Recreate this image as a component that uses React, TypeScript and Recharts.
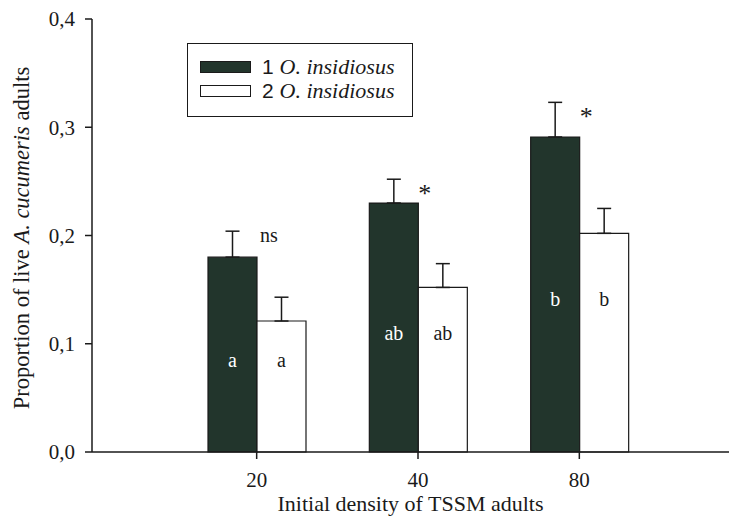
import React from "react";
import {
  BarChart,
  Bar,
  XAxis,
  YAxis,
  ErrorBar,
  LabelList,
  Legend,
} from "recharts";

// Initial TSSM density per arena
const densities = ["20", "40", "80"];

// Proportion of live A. cucumeris adults (mean) and SE
const oneInsidiosus = [0.18, 0.23, 0.291];
const oneInsidiosusSe = [0.024, 0.022, 0.032];
const twoInsidiosus = [0.121, 0.152, 0.202];
const twoInsidiosusSe = [0.022, 0.022, 0.023];

// Letters = mean separation within a treatment; marks = 1 vs 2 comparison
const oneLetters = ["a", "ab", "b"];
const twoLetters = ["a", "ab", "b"];
const pairMarks = ["ns", "*", "*"];

const yTicks = [0, 0.1, 0.2, 0.3, 0.4];

const data = densities.map((d, i) => ({
  density: d,
  one: oneInsidiosus[i],
  oneErr: [0, oneInsidiosusSe[i]],
  two: twoInsidiosus[i],
  twoErr: [0, twoInsidiosusSe[i]],
  oneLetter: oneLetters[i],
  twoLetter: twoLetters[i],
  mark: pairMarks[i],
}));

const DARK = "#22352c";
const INK = "#1a1a1a";
const SERIF = "'Liberation Serif', 'Times New Roman', serif";
const SANS = "'Liberation Sans', Arial, sans-serif";

// letter inside the dark bar, at mid height
function OneLetter(props: any) {
  const { x, y, width, height, value } = props;
  return (
    <text
      x={x + width / 2}
      y={y + height / 2 + 5}
      textAnchor="middle"
      dominantBaseline="central"
      fill="#fff"
      fontFamily={SERIF}
      fontSize={20}
    >
      {value}
    </text>
  );
}

// letter inside the white bar, level with the dark bar's letter
function TwoLetter(props: any) {
  const { x, y, width, height, value, index } = props;
  const bottom = y + height;
  const pxPerUnit = height / twoInsidiosus[index];
  const darkMid = bottom - (oneInsidiosus[index] / 2) * pxPerUnit;
  return (
    <text
      x={x + width / 2}
      y={darkMid + 5}
      textAnchor="middle"
      dominantBaseline="central"
      fill={INK}
      fontFamily={SERIF}
      fontSize={20}
    >
      {value}
    </text>
  );
}

// "ns" / "*" just right of the dark bar, near its error bar top
function PairMark(props: any) {
  const { x, y, width, height, value, index } = props;
  const pxPerUnit = height / oneInsidiosus[index];
  const errTop = y - oneInsidiosusSe[index] * pxPerUnit;
  const star = value === "*";
  return (
    <text
      x={x + width + (star ? 0 : 3)}
      y={errTop + (star ? 14 : 4)}
      textAnchor="start"
      dominantBaseline="central"
      fill={INK}
      fontFamily={SERIF}
      fontSize={star ? 26 : 20}
    >
      {value}
    </text>
  );
}

function LegendBox() {
  return (
    <div
      style={{
        width: 226,
        height: 74,
        border: `1.5px solid ${INK}`,
        background: "#fff",
        boxSizing: "border-box",
        paddingLeft: 12,
        paddingTop: 11,
      }}
    >
      {[
        { n: "1", fill: DARK },
        { n: "2", fill: "#fff" },
      ].map((r) => (
        <div
          key={r.n}
          style={{ display: "flex", alignItems: "center", height: 24 }}
        >
          <span
            style={{
              width: 51,
              height: 12,
              background: r.fill,
              border: `1.5px solid ${INK}`,
              boxSizing: "border-box",
              marginRight: 11,
            }}
          />
          <span style={{ fontFamily: SANS, fontSize: 21, color: INK }}>
            {r.n}&nbsp;
          </span>
          <span
            style={{
              fontFamily: SERIF,
              fontStyle: "italic",
              fontSize: 22,
              color: INK,
            }}
          >
            O. insidiosus
          </span>
        </div>
      ))}
    </div>
  );
}

function YTitle() {
  return (
    <text
      transform="translate(29, 238) rotate(-90)"
      textAnchor="middle"
      fontFamily={SERIF}
      fontSize={22.5}
      fill={INK}
    >
      Proportion of live <tspan fontStyle="italic">A. cucumeris</tspan> adults
    </text>
  );
}

export default function App() {
  return (
    <div
      style={{
        position: "absolute",
        left: 0,
        top: 0,
        width: 729,
        height: 517,
        background: "#fff",
      }}
    >
      <BarChart
        width={729}
        height={517}
        data={data}
        margin={{ top: 19, right: 0, bottom: 0, left: 0 }}
        barGap={0}
        barCategoryGap={0}
      >
        <XAxis
          dataKey="density"
          height={65}
          padding={{ left: 84, right: 69 }}
          axisLine={{ stroke: INK, strokeWidth: 1.5 }}
          tickLine={{ stroke: INK, strokeWidth: 1.5 }}
          tickSize={7}
          tickMargin={13}
          tick={{ fill: INK, fontFamily: SERIF, fontSize: 21 }}
          label={{
            value: "Initial density of TSSM adults",
            position: "insideBottom",
            offset: 6,
            fill: INK,
            fontFamily: SERIF,
            fontSize: 22,
          }}
        />
        <YAxis
          width={92}
          domain={[0, 0.4]}
          ticks={yTicks}
          interval={0}
          tickFormatter={(v: number) => v.toFixed(1).replace(".", ",")}
          axisLine={{ stroke: INK, strokeWidth: 1.5 }}
          tickLine={{ stroke: INK, strokeWidth: 1.5 }}
          tickSize={7}
          tickMargin={10}
          tick={{ fill: INK, fontFamily: SERIF, fontSize: 21 }}
          label={<YTitle />}
        />
        <Legend
          layout="horizontal"
          verticalAlign="middle"
          align="center"
          content={<LegendBox />}
          wrapperStyle={{ left: 187, top: 43, width: 226 }}
        />
        <Bar
          dataKey="one"
          name="1 O. insidiosus"
          fill={DARK}
          stroke={INK}
          strokeWidth={1.2}
          barSize={49}
          isAnimationActive={false}
        >
          <ErrorBar
            dataKey="oneErr"
            direction="y"
            width={7}
            stroke={INK}
            strokeWidth={1.5}
          />
          <LabelList dataKey="oneLetter" content={<OneLetter />} />
          <LabelList dataKey="mark" content={<PairMark />} />
        </Bar>
        <Bar
          dataKey="two"
          name="2 O. insidiosus"
          fill="#fff"
          stroke={INK}
          strokeWidth={1.2}
          barSize={49}
          isAnimationActive={false}
        >
          <ErrorBar
            dataKey="twoErr"
            direction="y"
            width={7}
            stroke={INK}
            strokeWidth={1.5}
          />
          <LabelList dataKey="twoLetter" content={<TwoLetter />} />
        </Bar>
      </BarChart>
    </div>
  );
}
